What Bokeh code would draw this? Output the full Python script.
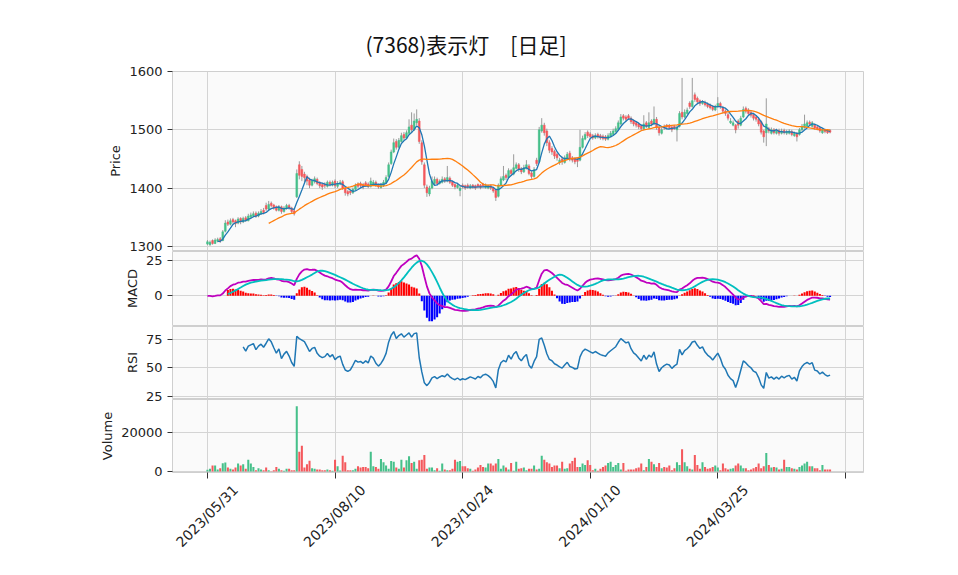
import numpy as np
import pandas as pd
from bokeh.plotting import figure
from bokeh.layouts import column
from bokeh.models import Range1d, FixedTicker, ColumnDataSource, Title, LinearAxis
from bokeh.embed import file_html
from bokeh.resources import INLINE

# ---------------- data ----------------
tick_idx = [0, 50, 100, 150, 200, 250]
tick_labels = ["2023/05/31", "2023/08/10", "2023/10/24", "2024/01/10", "2024/03/25", ""]

opens = [1304,1303,1310,1305,1309,1313,1310,1326,1342,1338,
1346,1344,1340,1348,1342,1349,1344,1350,1352,1357,
1352,1356,1362,1370,1364,1374,1371,1368,1362,1368,
1360,1365,1370,1366,1361,1385,1440,1432,1424,1420,
1414,1405,1411,1415,1409,1406,1407,1403,1410,1405,
1412,1403,1407,1411,1400,1394,1395,1392,1398,1407,
1408,1406,1409,1407,1403,1406,1410,1406,1401,1404,
1409,1420,1442,1462,1480,1470,1480,1492,1486,1494,
1508,1500,1512,1515,1478,1440,1402,1390,1400,1408,
1415,1408,1410,1416,1412,1417,1411,1406,1401,1396,
1405,1404,1405,1400,1405,1404,1406,1405,1407,1401,
1400,1404,1400,1396,1386,1405,1414,1422,1418,1430,
1424,1434,1440,1433,1428,1434,1438,1426,1420,1448,
1445,1498,1508,1498,1478,1468,1463,1458,1444,1450,
1444,1450,1460,1452,1450,1449,1448,1470,1484,1496,
1493,1490,1486,1492,1490,1489,1488,1484,1489,1492,
1497,1501,1510,1524,1522,1524,1520,1516,1512,1510,
1507,1502,1512,1504,1515,1510,1518,1504,1494,1506,
1508,1507,1505,1506,1500,1506,1530,1522,1528,1546,
1540,1560,1554,1550,1545,1547,1544,1542,1540,1534,
1540,1545,1538,1532,1526,1512,1508,1508,1515,1508,
1522,1537,1534,1530,1526,1522,1518,1514,1498,1495,
1502,1494,1500,1494,1499,1494,1499,1494,1494,1497,
1490,1494,1492,1500,1504,1506,1513,1506,1508,1505,
1503,1495,1500,1499,1499]

highs = [1311,1310,1312,1314,1315,1316,1328,1345,1346,1348,
1349,1346,1350,1350,1351,1352,1356,1358,1360,1360,
1360,1364,1366,1375,1378,1377,1373,1370,1371,1370,
1369,1373,1373,1368,1364,1432,1446,1438,1428,1423,
1418,1416,1420,1418,1412,1409,1410,1413,1413,1413,
1415,1412,1414,1414,1403,1397,1398,1401,1408,1410,
1411,1409,1412,1410,1418,1414,1413,1408,1409,1414,
1422,1444,1466,1485,1484,1486,1495,1496,1499,1518,
1530,1528,1535,1520,1482,1444,1406,1404,1420,1420,
1418,1415,1420,1419,1438,1420,1413,1408,1409,1404,
1408,1406,1408,1407,1407,1406,1408,1407,1409,1408,
1406,1406,1402,1398,1408,1420,1438,1425,1434,1433,
1458,1444,1443,1436,1440,1448,1441,1429,1436,1452,
1505,1520,1512,1502,1482,1472,1466,1461,1452,1454,
1456,1462,1464,1455,1453,1452,1500,1490,1496,1499,
1496,1493,1494,1495,1493,1492,1491,1494,1498,1502,
1506,1516,1527,1527,1525,1527,1523,1518,1515,1512,
1509,1525,1515,1530,1518,1540,1522,1507,1504,1509,
1510,1510,1507,1508,1508,1532,1589,1535,1538,1549,
1589,1564,1557,1552,1551,1550,1547,1545,1542,1543,
1556,1548,1541,1535,1529,1520,1516,1510,1518,1524,
1540,1540,1537,1533,1529,1525,1521,1516,1500,1554,
1505,1504,1503,1502,1502,1502,1502,1500,1501,1500,
1497,1496,1503,1510,1526,1516,1516,1515,1511,1507,
1505,1503,1502,1501,1501]

lows = [1302,1301,1303,1304,1307,1306,1309,1324,1335,1336,
1339,1333,1338,1338,1340,1342,1343,1348,1350,1349,
1350,1354,1355,1361,1362,1367,1363,1360,1360,1356,
1358,1363,1363,1357,1353,1383,1415,1412,1410,1405,
1400,1403,1408,1405,1400,1397,1400,1401,1403,1403,
1400,1400,1405,1397,1387,1386,1388,1390,1396,1400,
1401,1398,1402,1400,1401,1404,1402,1399,1399,1402,
1407,1418,1440,1460,1466,1468,1478,1482,1484,1492,
1496,1498,1508,1476,1440,1400,1385,1386,1398,1405,
1405,1406,1408,1409,1410,1407,1402,1398,1399,1386,
1399,1397,1399,1398,1399,1397,1400,1398,1401,1399,
1398,1397,1392,1378,1384,1403,1412,1414,1416,1421,
1422,1432,1428,1424,1426,1432,1422,1416,1418,1438,
1443,1495,1490,1472,1460,1457,1450,1447,1440,1440,
1442,1448,1446,1444,1441,1436,1446,1468,1482,1486,
1485,1483,1484,1485,1483,1482,1481,1482,1487,1490,
1495,1499,1508,1516,1514,1517,1510,1506,1504,1501,
1498,1499,1503,1502,1506,1508,1500,1490,1492,1500,
1502,1501,1496,1500,1480,1504,1518,1520,1526,1536,
1538,1548,1544,1541,1543,1540,1537,1535,1532,1532,
1538,1536,1528,1524,1516,1510,1506,1494,1502,1506,
1520,1528,1524,1521,1516,1514,1506,1492,1478,1472,
1494,1492,1492,1492,1490,1492,1492,1491,1492,1489,
1488,1480,1490,1498,1502,1504,1507,1504,1500,1499,
1495,1493,1494,1493,1494]

closes = [1308,1307,1305,1311,1312,1309,1325,1340,1338,1344,
1342,1339,1347,1342,1348,1345,1352,1354,1356,1352,
1357,1360,1358,1364,1372,1370,1366,1362,1368,1360,
1366,1370,1366,1360,1356,1425,1422,1420,1418,1412,
1405,1413,1416,1408,1404,1402,1404,1410,1406,1410,
1404,1408,1410,1400,1392,1390,1392,1398,1405,1403,
1404,1402,1405,1403,1412,1410,1405,1402,1405,1410,
1418,1440,1462,1478,1470,1482,1490,1486,1495,1505,
1500,1515,1518,1480,1445,1405,1392,1400,1412,1415,
1408,1412,1415,1412,1418,1410,1405,1402,1405,1400,
1402,1400,1402,1404,1402,1400,1403,1401,1404,1405,
1403,1400,1395,1384,1405,1416,1420,1418,1430,1425,
1435,1440,1432,1428,1435,1440,1425,1420,1432,1442,
1500,1508,1495,1478,1465,1462,1455,1452,1448,1445,
1452,1458,1450,1448,1445,1446,1470,1485,1492,1490,
1488,1486,1490,1488,1486,1485,1484,1490,1494,1498,
1502,1512,1522,1520,1518,1520,1514,1510,1508,1505,
1502,1510,1506,1512,1510,1518,1505,1495,1500,1503,
1505,1504,1500,1503,1505,1528,1522,1530,1534,1540,
1550,1552,1548,1545,1548,1543,1540,1538,1535,1540,
1545,1540,1532,1528,1520,1515,1512,1500,1508,1520,
1535,1532,1528,1525,1520,1518,1510,1496,1488,1510,
1498,1500,1495,1498,1494,1498,1495,1497,1498,1492,
1494,1488,1500,1506,1510,1512,1510,1512,1503,1502,
1498,1500,1497,1495,1496]

volumes = [850,1360,3060,3060,1020,1700,4250,4590,2040,1360,
1020,2040,4080,3060,3740,1360,6120,4080,2380,680,
1700,1020,680,2040,680,170,680,2380,1360,680,
340,1360,1360,680,680,33660,10200,13260,2040,3740,
5610,1700,1360,1020,1020,680,680,1020,680,340,
6120,2720,510,8160,4760,680,680,680,1360,2720,
2040,2380,2380,1700,10200,2720,2380,1360,6460,4760,
3060,1360,5440,5100,2040,1360,6120,2040,5780,7820,
4420,5100,1360,5780,6120,8500,1360,2040,2040,680,
1700,340,4080,1020,680,680,1360,6120,5100,5440,
2720,2720,1700,1360,340,1020,2040,3400,2380,2040,
4080,4080,3060,4080,6460,1360,3060,2040,1020,4420,
340,5100,1360,1700,2040,680,1360,1360,3060,1020,
1360,8160,6120,4760,4080,2380,3060,3060,1700,5100,
1360,1700,4080,5440,7140,2380,2380,4080,3400,5780,
3400,680,1360,340,1360,2380,3060,4420,5100,2380,
3400,4420,1020,4420,340,1020,1020,1020,1700,2040,
4080,680,2380,6460,5100,3740,2380,4420,1700,2380,
2040,3060,680,1700,4760,3400,11560,4760,2720,1360,
1020,8500,3400,1360,4760,2380,1360,1700,2380,3060,
2040,680,4080,1700,1020,1360,1700,3060,4080,3060,
1700,1700,680,1020,1700,2380,4080,1700,2720,9520,
3400,2040,2380,2040,1020,1360,6120,2380,2380,1700,
1360,1020,2380,3060,4080,5100,2720,2720,1700,1700,
680,3400,1020,1020,1020]

# ---------------- indicators defined by the chart ----------------
n = len(closes)
idx = np.arange(n)
c = pd.Series(closes, dtype=float)
ma5 = c.rolling(5).mean()
ma25 = c.rolling(25).mean()
macd = c.ewm(span=12, adjust=False).mean() - c.ewm(span=26, adjust=False).mean()
signal = macd.rolling(9).mean()
hist = macd - signal
d = c.diff()
gain = d.clip(lower=0).ewm(alpha=1 / 14, adjust=False, min_periods=14).mean()
loss = (-d.clip(upper=0)).ewm(alpha=1 / 14, adjust=False, min_periods=14).mean()
rsi = 100 - 100 / (1 + gain / loss)

UP = "#45c08a"
DN = "#f4585c"
up = [cl >= op for op, cl in zip(opens, closes)]
colors = [UP if u else DN for u in up]

src = ColumnDataSource(dict(
    x=idx, o=opens, h=highs, l=lows, c=closes, v=volumes,
    top=[max(a, b) for a, b in zip(opens, closes)],
    bot=[min(a, b) for a, b in zip(opens, closes)],
    col=colors,
    hist=hist.fillna(0).values,
    hcol=["#ff0000" if (not np.isnan(hv) and hv >= 0) else "#0000ff" for hv in hist.values],
))

W = 950
XR = Range1d(-13.7, 257.1)
FONT = "DejaVu Sans"
BG = "#fafafa"
GRID = "#d4d4d4"


def style(p, yticks, label):
    p.background_fill_color = BG
    p.border_fill_alpha = 0
    p.outline_line_color = "#cfcfcf"
    p.xgrid.ticker = FixedTicker(ticks=tick_idx)
    p.ygrid.ticker = FixedTicker(ticks=yticks)
    p.xgrid.grid_line_color = GRID
    p.ygrid.grid_line_color = GRID
    p.yaxis.ticker = FixedTicker(ticks=yticks)
    p.yaxis.axis_label = label
    p.yaxis.axis_label_text_font = FONT
    p.yaxis.axis_label_text_font_size = "13px"
    p.yaxis.axis_label_text_font_style = "normal"
    p.yaxis.axis_label_text_color = "#222222"
    p.yaxis.axis_label_standoff = 3
    p.yaxis.major_label_text_font = FONT
    p.yaxis.major_label_text_font_size = "13px"
    p.yaxis.major_label_text_color = "#222222"
    p.yaxis.major_label_standoff = 5
    p.yaxis.axis_line_color = None
    p.yaxis.major_tick_line_color = "#333333"
    p.yaxis.major_tick_out = 5
    p.yaxis.major_tick_in = 0
    p.yaxis.minor_tick_line_color = None
    p.min_border_left = 172
    p.min_border_right = 87


# ---------------- price panel ----------------
p1 = figure(width=W, height=260, x_range=XR, y_range=Range1d(1293, 1600),
            output_backend="svg", toolbar_location=None,
            min_border_top=71, min_border_bottom=10)
p1.title = Title(text="(7368)表示灯\u3000[日足]", align="left", offset=193,
                 text_font="Noto Sans CJK JP", text_font_size="21px",
                 text_font_style="normal", text_color="#111111", standoff=26)
style(p1, [1300, 1400, 1500, 1600], "Price")
p1.xaxis.visible = False
p1.segment(x0="x", y0="l", x1="x", y1="h", source=src, color="#9a9a9a", line_width=1)
p1.vbar(x="x", top="top", bottom="bot", width=0.7, source=src,
        fill_color="col", line_color="col", line_width=0.5)
p1.line(idx, ma5.values, color="#1f77b4", line_width=1.3)
p1.line(idx, ma25.values, color="#ff7f0e", line_width=1.3)

# ---------------- MACD panel ----------------
p2 = figure(width=W, height=85, x_range=XR, y_range=Range1d(-21.0, 31.4),
            output_backend="svg", toolbar_location=None,
            min_border_top=1, min_border_bottom=10,
            styles={"margin-top": "-10px"})
style(p2, [0, 25], "MACD")
p2.xaxis.visible = False
p2.vbar(x="x", top="hist", bottom=0, width=0.8, source=src,
        fill_color="hcol", line_color=None)
p2.line(idx, macd.values, color="#bf00bf", line_width=1.8)
p2.line(idx, signal.values, color="#00bfbf", line_width=1.8)

# ---------------- RSI panel ----------------
p3 = figure(width=W, height=83, x_range=XR, y_range=Range1d(23.1, 86.2),
            output_backend="svg", toolbar_location=None,
            min_border_top=1, min_border_bottom=10,
            styles={"margin-top": "-10px"})
style(p3, [25, 50, 75], "RSI")
p3.xaxis.visible = False
p3.line(idx, rsi.values, color="#1f77b4", line_width=1.5)

# ---------------- Volume panel ----------------
p4 = figure(width=W, height=167, x_range=XR, y_range=Range1d(-517, 37209),
            output_backend="svg", toolbar_location=None,
            min_border_top=1, min_border_bottom=93,
            styles={"margin-top": "-10px"})
style(p4, [0, 20000], "Volume")
p4.vbar(x="x", top="v", bottom=0, width=0.8, source=src,
        fill_color="col", line_color=None)
# tick marks
p4.xaxis.ticker = FixedTicker(ticks=tick_idx)
p4.xaxis.major_label_overrides = {t: "" for t in tick_idx}
p4.xaxis.major_label_standoff = 0
p4.xaxis.major_label_text_font_size = "1px"
p4.xaxis.axis_line_color = None
p4.xaxis.major_tick_line_color = "#333333"
p4.xaxis.major_tick_out = 6
p4.xaxis.major_tick_in = 0
p4.xaxis.minor_tick_line_color = None
# date labels (rotated labels are anchored at their end; shift so each is centred on its tick)
LABEL_SHIFT = 11
lab_ticks = [t + LABEL_SHIFT for t, s in zip(tick_idx, tick_labels) if s]
date_axis = LinearAxis(
    ticker=FixedTicker(ticks=lab_ticks),
    major_label_overrides={t + LABEL_SHIFT: s for t, s in zip(tick_idx, tick_labels) if s},
    major_label_orientation=np.pi / 4,
    major_label_text_font=FONT, major_label_text_font_size="14px",
    major_label_text_color="#222222", major_label_standoff=9,
    axis_line_color=None, major_tick_line_color=None, minor_tick_line_color=None,
    major_tick_out=0, major_tick_in=0,
)
p4.add_layout(date_axis, "below")

layout = column(p1, p2, p3, p4, spacing=0)
open("out.html", "w").write(file_html(layout, INLINE))
